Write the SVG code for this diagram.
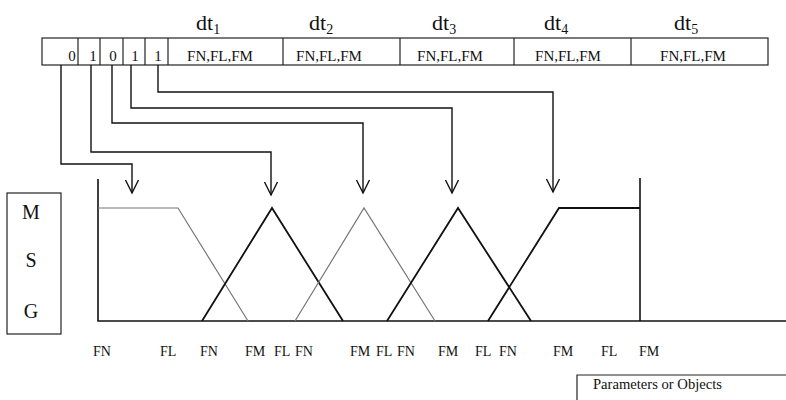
<svg xmlns="http://www.w3.org/2000/svg" width="786" height="400" viewBox="0 0 786 400">
<defs>
<style>
text{font-family:"Liberation Serif","Times New Roman",serif;fill:#111;}
.cell{fill:none;stroke:#222;stroke-width:1.2;}
.dt{font-size:22px;}
.sub{font-size:14px;}
.ct{font-size:15px;text-anchor:middle;}
.bl{font-size:14px;}
.msg{font-size:20px;text-anchor:middle;}
.conn{fill:none;stroke:#111;stroke-width:1.4;}
.axis{fill:none;stroke:#111;stroke-width:1.6;}
.mfb{fill:none;stroke:#111;stroke-width:1.8;}
.mfg{fill:none;stroke:#777;stroke-width:1.2;}
</style>
<marker id="arr" markerUnits="userSpaceOnUse" markerWidth="16" markerHeight="16" refX="14" refY="7" orient="auto" viewBox="0 0 16 14">
<path d="M1,0.5 L14,7 L1,13.5" fill="none" stroke="#111" stroke-width="1.4"/>
</marker>
</defs>
<g id="header">
<text class="dt" x="196" y="30">dt<tspan class="sub" dy="4">1</tspan></text>
<text class="dt" x="309" y="30">dt<tspan class="sub" dy="4">2</tspan></text>
<text class="dt" x="432" y="30">dt<tspan class="sub" dy="4">3</tspan></text>
<text class="dt" x="544" y="30">dt<tspan class="sub" dy="4">4</tspan></text>
<text class="dt" x="674" y="30">dt<tspan class="sub" dy="4">5</tspan></text>
</g>
<g id="bit-row">
<rect class="cell" x="42" y="38" width="726" height="27"/>
<line class="cell" x1="78" y1="38" x2="78" y2="65"/>
<line class="cell" x1="100" y1="38" x2="100" y2="65"/>
<line class="cell" x1="123" y1="38" x2="123" y2="65"/>
<line class="cell" x1="145" y1="38" x2="145" y2="65"/>
<line class="cell" x1="168" y1="38" x2="168" y2="65"/>
<line class="cell" x1="283" y1="38" x2="283" y2="65"/>
<line class="cell" x1="400" y1="38" x2="400" y2="65"/>
<line class="cell" x1="514" y1="38" x2="514" y2="65"/>
<line class="cell" x1="631" y1="38" x2="631" y2="65"/>
<text class="ct" x="72" y="61">0</text>
<text class="ct" x="93" y="61">1</text>
<text class="ct" x="113" y="61">0</text>
<text class="ct" x="135" y="61">1</text>
<text class="ct" x="158" y="61">1</text>
<text class="ct" x="220" y="61">FN,FL,FM</text>
<text class="ct" x="329" y="61">FN,FL,FM</text>
<text class="ct" x="450" y="61">FN,FL,FM</text>
<text class="ct" x="568" y="61">FN,FL,FM</text>
<text class="ct" x="693" y="61">FN,FL,FM</text>
</g>
<g id="connectors">
<path class="conn" d="M61,65 V164 H132 V193" marker-end="url(#arr)"/>
<path class="conn" d="M91,65 V152 H271 V195" marker-end="url(#arr)"/>
<path class="conn" d="M112,65 V123 H363 V193" marker-end="url(#arr)"/>
<path class="conn" d="M131,65 V108 H452 V193" marker-end="url(#arr)"/>
<path class="conn" d="M158,65 V92 H553 V192" marker-end="url(#arr)"/>
</g>
<g id="msg-box">
<rect class="cell" x="7" y="193" width="54" height="141"/>
<text class="msg" x="31" y="219">M</text>
<text class="msg" x="31" y="267">S</text>
<text class="msg" x="31" y="318">G</text>
</g>
<g id="chart">
<path class="axis" d="M98,179 V321 H786"/>
<line class="axis" x1="640" y1="178" x2="640" y2="321"/>
<path class="mfg" d="M98,208 H178 L248,321"/>
<path class="mfb" d="M202,321 L272,208 L343,321"/>
<path class="mfg" d="M295,321 L364,208 L435,321"/>
<path class="mfb" d="M387,321 L458,208 L531,321"/>
<path class="mfb" d="M488,321 L559,208 H640"/>
</g>
<g id="labels">
<text class="bl" x="93" y="356">FN</text>
<text class="bl" x="160" y="356">FL</text>
<text class="bl" x="200" y="356">FN</text>
<text class="bl" x="245" y="356">FM</text>
<text class="bl" x="274" y="356">FL</text>
<text class="bl" x="295" y="356">FN</text>
<text class="bl" x="350" y="356">FM</text>
<text class="bl" x="376" y="356">FL</text>
<text class="bl" x="397" y="356">FN</text>
<text class="bl" x="438" y="356">FM</text>
<text class="bl" x="475" y="356">FL</text>
<text class="bl" x="499" y="356">FN</text>
<text class="bl" x="553" y="356">FM</text>
<text class="bl" x="601" y="356">FL</text>
<text class="bl" x="639" y="356">FM</text>
</g>
<g id="legend">
<path class="cell" d="M577,400 V375 H786"/>
<text x="593" y="389" style="font-size:14px" textLength="129" lengthAdjust="spacingAndGlyphs">Parameters or Objects</text>
</g>
</svg>
